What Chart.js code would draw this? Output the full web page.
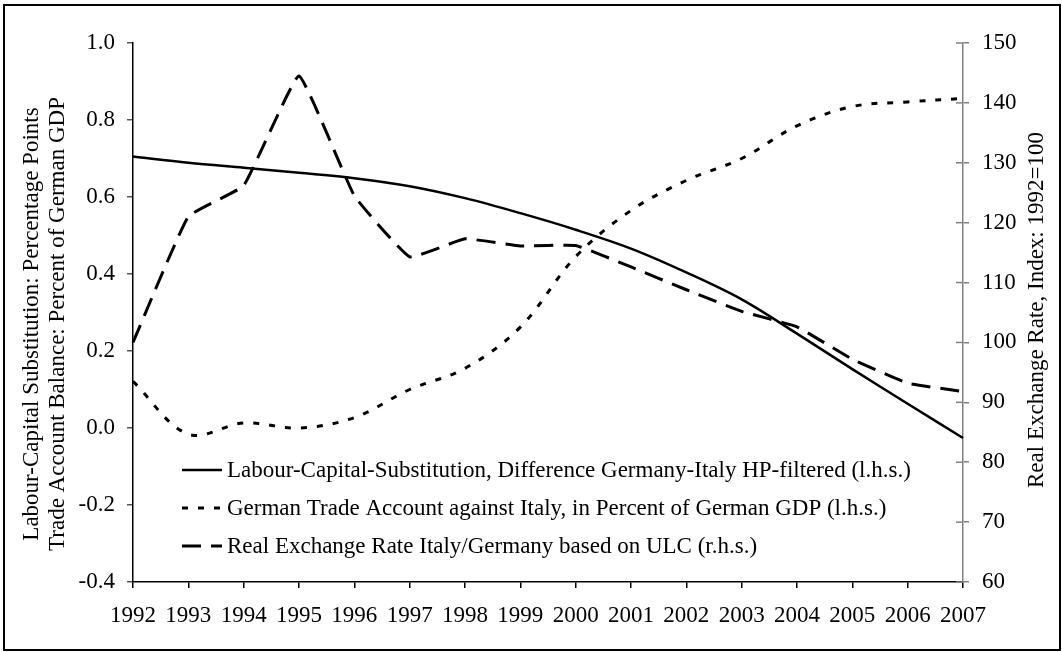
<!DOCTYPE html>
<html>
<head>
<meta charset="utf-8">
<title>Labour-Capital Substitution, Trade Account and Real Exchange Rate</title>
<script src="https://cdn.jsdelivr.net/npm/chart.js@4.4.1/dist/chart.umd.min.js"></script>
<style>
    html, body { margin: 0; padding: 0; background: #fff; }
    #frame { position: absolute; left: 3px; top: 4px; width: 1054px; height: 643px; border: 2px solid #000; }
    #chart { position: absolute; left: 0; top: 0; }
</style>
</head>
<body>
<div id="frame"></div>
<canvas id="chart" width="1062" height="652"></canvas>
<script>
// ─── Data ────────────────────────────────────────────────────────────────────
const years = ['1992', '1993', '1994', '1995', '1996', '1997', '1998', '1999',
               '2000', '2001', '2002', '2003', '2004', '2005', '2006', '2007'];

// l.h.s., percentage points
const labourCapital = [0.705, 0.689, 0.676, 0.663, 0.649, 0.628, 0.597, 0.558,
                       0.515, 0.466, 0.404, 0.334, 0.245, 0.153, 0.063, -0.026];

// l.h.s., percent of German GDP
const tradeAccount = [0.121, -0.016, 0.013, 0.000, 0.027, 0.100, 0.155, 0.262,
                      0.445, 0.565, 0.643, 0.700, 0.785, 0.835, 0.847, 0.856];

// r.h.s., index 1992=100
const realExchange = [100.0, 121.0, 126.2, 144.5, 124.5, 114.3, 117.3, 116.1,
                      116.2, 112.6, 108.8, 105.2, 102.6, 97.2, 93.2, 91.8];

const seriesLabels = [
    'Labour-Capital-Substitution, Difference Germany-Italy HP-filtered (l.h.s.)',
    'German Trade Account against Italy, in Percent of German GDP (l.h.s.)',
    'Real Exchange Rate Italy/Germany based on ULC (r.h.s.)'
];

const leftTitle = [
    'Labour-Capital Substitution: Percentage Points',
    'Trade Account Balance: Percent of German GDP'
];
const rightTitle = 'Real Exchange Rate, Index: 1992=100';

// ─── Style ───────────────────────────────────────────────────────────────────
const FONT = "'Liberation Serif', 'Times New Roman', serif";
const FONT_SIZE = 23;
const AXIS_GREY = '#808080';

Chart.defaults.font.family = FONT;
Chart.defaults.font.size = FONT_SIZE;
Chart.defaults.color = '#000';

// titles, in-plot legend and the inner half of the right-axis ticks
const decorPlugin = {
    id: 'decor',
    afterDraw(chart) {
        const { ctx, chartArea: area, scales } = chart;
        ctx.save();

        // right axis ticks cross the axis line
        ctx.strokeStyle = AXIS_GREY;
        ctx.lineWidth = 1.5;
        scales.yR.ticks.forEach(t => {
            const y = scales.yR.getPixelForValue(t.value);
            ctx.beginPath();
            ctx.moveTo(area.right - 7, y);
            ctx.lineTo(area.right, y);
            ctx.stroke();
        });

        // axis titles (both read bottom to top)
        ctx.fillStyle = '#000';
        ctx.font = `${FONT_SIZE}px ${FONT}`;
        ctx.textAlign = 'center';
        ctx.textBaseline = 'middle';
        leftTitle.forEach((line, i) => {
            ctx.save();
            ctx.translate(32 + i * 26, 324);
            ctx.rotate(-Math.PI / 2);
            ctx.fillText(line, 0, 0);
            ctx.restore();
        });
        ctx.save();
        ctx.translate(1037, 310);
        ctx.rotate(-Math.PI / 2);
        ctx.fillText(rightTitle, 0, 0);
        ctx.restore();

        // legend
        ctx.textAlign = 'left';
        chart.data.datasets.forEach((ds, i) => {
            const y = 470 + i * 38;
            ctx.strokeStyle = ds.borderColor;
            ctx.lineWidth = ds.borderWidth;
            ctx.lineCap = 'butt';
            ctx.setLineDash(ds.borderDash || []);
            ctx.beginPath();
            ctx.moveTo(182, y);
            ctx.lineTo(222, y);
            ctx.stroke();
            ctx.setLineDash([]);
            ctx.fillText(ds.label, 227, y + 1);
        });

        ctx.restore();
    }
};

new Chart(document.getElementById('chart'), {
    type: 'line',
    data: {
        labels: years,
        datasets: [
            {
                label: seriesLabels[0],
                data: labourCapital,
                yAxisID: 'y',
                borderColor: '#000',
                borderWidth: 2.5,
                tension: 0.35
            },
            {
                label: seriesLabels[1],
                data: tradeAccount,
                yAxisID: 'y',
                borderColor: '#000',
                borderWidth: 3,
                borderDash: [6, 10],
                tension: 0.35
            },
            {
                label: seriesLabels[2],
                data: realExchange,
                yAxisID: 'yR',
                borderColor: '#000',
                borderWidth: 3,
                borderDash: [19, 10],
                tension: 0.1
            }
        ]
    },
    options: {
        responsive: false,
        animation: false,
        events: [],
        layout: { padding: { top: 43, right: 0, bottom: 0, left: 0 } },
        elements: {
            point: { radius: 0 },
            line: { fill: false, borderCapStyle: 'butt', borderJoinStyle: 'round' }
        },
        datasets: { line: { clip: false } },
        plugins: {
            legend: { display: false },
            tooltip: { enabled: false }
        },
        scales: {
            x: {
                type: 'category',
                offset: false,
                grid: { drawOnChartArea: false, drawTicks: true, tickLength: 6, color: '#000', lineWidth: 1.5 },
                border: { color: '#000', width: 1.5 },
                ticks: { padding: 14, maxRotation: 0, autoSkip: false, color: '#000' },
                afterFit: s => { s.height = 70; }
            },
            y: {
                position: 'left',
                min: -0.4,
                max: 1.0,
                grid: { drawOnChartArea: false, drawTicks: true, tickLength: 6, color: '#555', lineWidth: 1.5 },
                border: { color: '#000', width: 1.5 },
                ticks: {
                    stepSize: 0.2,
                    padding: 12,
                    callback: v => (Math.abs(v) < 1e-9 ? 0 : v).toFixed(1)
                },
                afterFit: s => { s.width = 133; }
            },
            yR: {
                position: 'right',
                min: 60,
                max: 150,
                grid: { drawOnChartArea: false, drawTicks: true, tickLength: 6, color: AXIS_GREY, lineWidth: 1.5 },
                border: { color: AXIS_GREY, width: 1.5 },
                ticks: { stepSize: 10, padding: 13 },
                afterFit: s => { s.width = 99; }
            }
        }
    },
    plugins: [decorPlugin]
});
</script>
</body>
</html>
